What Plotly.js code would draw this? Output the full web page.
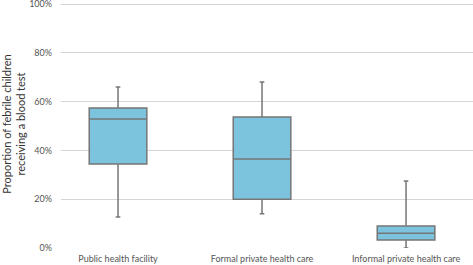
<!DOCTYPE html>
<html><head><meta charset="utf-8">
<script src="https://cdn.plot.ly/plotly-3.0.1.min.js"></script>
<style>html,body{margin:0;padding:0;background:#fff}#c{width:473px;height:265px}</style>
</head><body><div id="c"></div>
<script>
const categories = ["Public health facility", "Formal private health care", "Informal private health care"];
const lowerFence = [0.127, 0.14, 0.0];
const q1 = [0.344, 0.20, 0.033];
const median = [0.529, 0.365, 0.06];
const q3 = [0.574, 0.537, 0.09];
const upperFence = [0.66, 0.68, 0.275];
const yTicks = [0, 0.2, 0.4, 0.6, 0.8, 1.0];
const yTickText = ["0%", "20%", "40%", "60%", "80%", "100%"];

const trace = {
  type: "box",
  x: categories,
  q1: q1, median: median, q3: q3,
  lowerfence: lowerFence, upperfence: upperFence,
  fillcolor: "#7cc4dd",
  line: {color: "#767676", width: 1.5},
  whiskerwidth: 0.08,
  width: 0.4,
  boxpoints: false,
  hoverinfo: "skip"
};
const layout = {
  width: 473, height: 265,
  margin: {l: 61, r: 0, t: 0, b: 17},
  paper_bgcolor: "#fff", plot_bgcolor: "#fff",
  showlegend: false,
  font: {family: "Lato, 'Open Sans', sans-serif", color: "#555", size: 9},
  xaxis: {
    type: "category", showgrid: false, zeroline: false, showline: false,
    range: [-0.396, 2.465], ticklabelstandoff: 4,
    ticks: "", tickfont: {size: 9, color: "#555"}, fixedrange: true
  },
  yaxis: {
    range: [0, 1.0164], tickvals: yTicks, ticktext: yTickText,
    ticklabeloverflow: "allow",
    showgrid: true, gridcolor: "#d6d6d6", gridwidth: 1, zeroline: false,
    showline: false, ticks: "", ticklabelstandoff: 8,
    tickfont: {size: 9, color: "#555"},
    title: {text: "Proportion of febrile children<br>receiving a blood test", font: {size: 11, color: "#333"}, standoff: 6}
  }
};
Plotly.newPlot("c", [trace], layout, {displayModeBar: false, staticPlot: true});
</script></body></html>
